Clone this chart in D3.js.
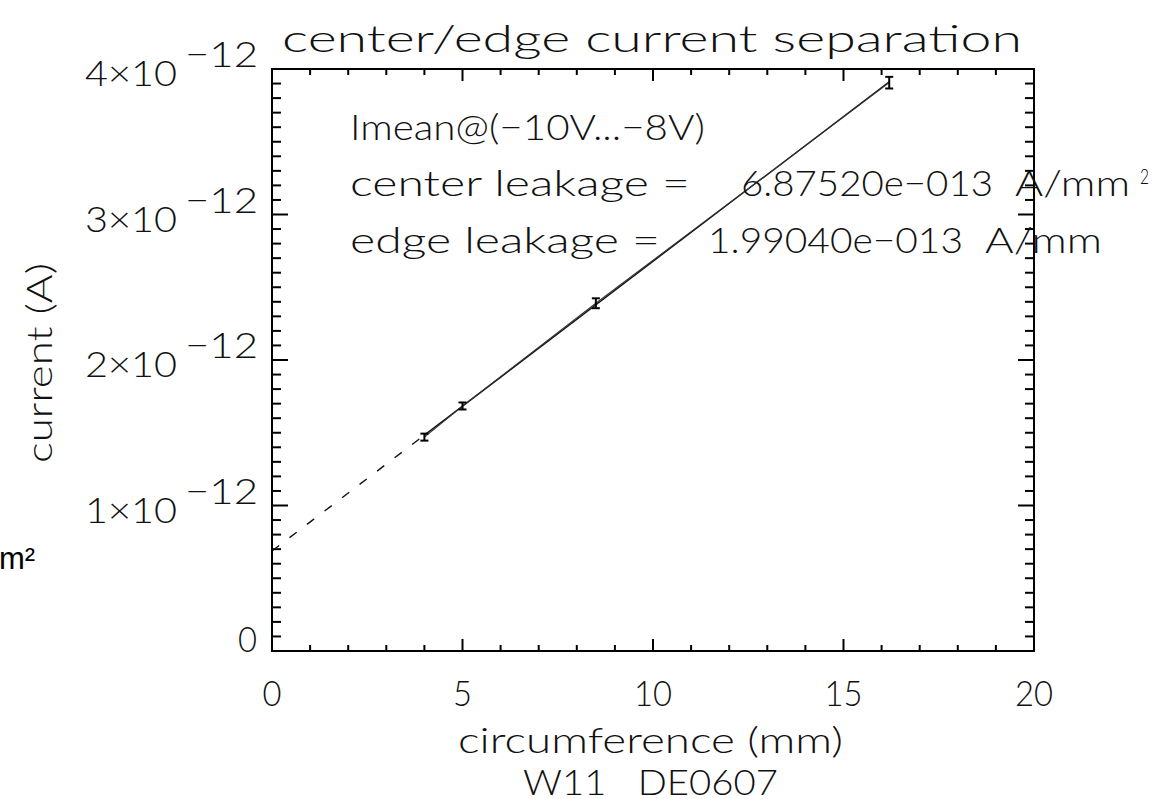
<!DOCTYPE html>
<html>
<head>
<meta charset="utf-8">
<script src="https://cdn.jsdelivr.net/npm/d3@7"></script>
<style>
  body { margin: 0; background: #fff; }
  svg { display: block; }
  text { font-family: Lato, "DejaVu Sans", sans-serif; font-weight: 300; fill: #111; white-space: pre; }
</style>
</head>
<body>
<svg id="chart" width="1167" height="799"></svg>
<script>
// Measured pads: circumference (mm) vs mean current (A) in the -10V...-8V window
const circumference = [4.0, 5.0, 8.5, 16.2];
const current = [1.47e-12, 1.684e-12, 2.39e-12, 3.906e-12];
const currentErr = [0.024e-12, 0.024e-12, 0.034e-12, 0.04e-12];

// Fit results: I = centerLeakage * area + edgeLeakage * circumference (area 1 mm^2)
const centerLeakage = 6.87520e-13; // A/mm^2
const edgeLeakage = 1.99040e-13;   // A/mm
const padArea = 1.0;               // mm^2

// Axis ticks
const xMajor = [0, 5, 10, 15, 20];
const xMinor = d3.range(0, 21, 1);
const yMajor = [0, 1e-12, 2e-12, 3e-12, 4e-12];
const yMinor = d3.range(0, 41).map(i => i * 1e-13);
const yMantissa = ["0", "1", "2", "3", "4"];

(function draw() {
  const svg = d3.select("#chart");
  const pL = 272, pR = 1034, pT = 69, pB = 651;
  const x = d3.scaleLinear().domain([0, 20]).range([pL, pR]);
  const y = d3.scaleLinear().domain([0, 4e-12]).range([pB, pT]);

  // text placed to span a fixed horizontal extent
  function span(g, str, x0, x1, base, size) {
    return g.append("text")
      .attr("x", x0).attr("y", base)
      .attr("font-size", size)
      .attr("textLength", x1 - x0)
      .attr("lengthAdjust", "spacingAndGlyphs")
      .text(str);
  }

  // ---- frame & ticks ----
  const axes = svg.append("g").attr("stroke", "#000").attr("stroke-width", 2).attr("fill", "none");
  axes.append("rect").attr("x", pL).attr("y", pT).attr("width", pR - pL).attr("height", pB - pT);

  const xTickLen = v => (xMajor.includes(v) ? 12 : 6);
  axes.selectAll(".xtb").data(xMinor).join("line")
    .attr("x1", d => x(d)).attr("x2", d => x(d))
    .attr("y1", pB).attr("y2", d => pB - xTickLen(d));
  axes.selectAll(".xtt").data(xMinor).join("line")
    .attr("x1", d => x(d)).attr("x2", d => x(d))
    .attr("y1", pT).attr("y2", d => pT + xTickLen(d));

  const yLen = i => (i % 10 === 0 ? 16 : 9);
  axes.selectAll(".ytl").data(yMinor).join("line")
    .attr("y1", d => y(d)).attr("y2", d => y(d))
    .attr("x1", pL).attr("x2", (d, i) => pL + yLen(i));
  axes.selectAll(".ytr").data(yMinor).join("line")
    .attr("y1", d => y(d)).attr("y2", d => y(d))
    .attr("x1", pR).attr("x2", (d, i) => pR - yLen(i));

  // ---- tick labels ----
  const lab = svg.append("g");
  xMajor.forEach(v => {
    const s = String(v);
    const w = s.length * 19;
    span(lab, s, x(v) - w / 2, x(v) + w / 2, 706, 36);
  });
  yMajor.forEach((v, i) => {
    const ty = y(v);
    if (v === 0) {
      span(lab, "0", 238, 257, ty + 1, 36);
    } else {
      span(lab, yMantissa[i] + "\u00d710", 85, 177, ty + 17, 36);
      span(lab, "\u221212", 185, 258, ty - 2, 36);
    }
  });

  // ---- titles ----
  span(lab, "center/edge current separation", 282, 1022, 52, 38);
  span(lab, "circumference (mm)", 458, 843, 753, 36);
  span(lab, "W11   DE0607", 523, 778, 795, 36);
  lab.append("text")
    .attr("transform", "translate(52,463) rotate(-90)")
    .attr("font-size", 36)
    .attr("textLength", 200)
    .attr("lengthAdjust", "spacingAndGlyphs")
    .text("current (A)");

  // ---- fit line: dashed extrapolation to x=0, solid over the data ----
  const fit = v => centerLeakage * padArea + edgeLeakage * v;
  const xLo = d3.min(circumference), xHi = d3.max(circumference);
  const line = d3.line().x(d => x(d)).y(d => y(fit(d)));
  svg.append("path").attr("d", line([0, xLo]))
    .attr("fill", "none").attr("stroke", "#111").attr("stroke-width", 1.4)
    .attr("stroke-dasharray", "9,13");
  svg.append("path").attr("d", line([xLo, xHi]))
    .attr("fill", "none").attr("stroke", "#111").attr("stroke-width", 1.4);

  // data polyline
  const pts = circumference.map((c, i) => [c, current[i]]);
  svg.append("path")
    .attr("d", d3.line().x(d => x(d[0])).y(d => y(d[1]))(pts))
    .attr("fill", "none").attr("stroke", "#333").attr("stroke-width", 1.1);

  // error bars
  const eb = svg.append("g").attr("stroke", "#000").attr("stroke-width", 2);
  pts.forEach((p, i) => {
    const cx = x(p[0]);
    const y0 = y(p[1] - currentErr[i]), y1 = y(p[1] + currentErr[i]);
    eb.append("line").attr("x1", cx).attr("x2", cx).attr("y1", y0).attr("y2", y1);
    eb.append("line").attr("x1", cx - 4).attr("x2", cx + 4).attr("y1", y0).attr("y2", y0);
    eb.append("line").attr("x1", cx - 4).attr("x2", cx + 4).attr("y1", y1).attr("y2", y1);
  });

  // ---- fit annotation (IDL-style exponent: e-013) ----
  const fmt = v => d3.format(".5e")(v).replace(/e-(\d+)/, (m, d) => "e\u2212" + d.padStart(3, "0"));
  const ann = svg.append("g");
  span(ann, "Imean@(\u221210V...\u22128V)", 350, 705, 140, 36);
  span(ann, "center leakage =", 350, 690, 196, 36);
  span(ann, fmt(centerLeakage), 741, 993, 196, 36);
  span(ann, "A/mm", 1015, 1130, 196, 36);
  span(ann, "2", 1140, 1149, 184, 22);
  span(ann, "edge leakage =", 350, 660, 253, 36);
  span(ann, fmt(edgeLeakage), 708, 963, 253, 36);
  span(ann, "A/mm", 985, 1102, 253, 36);

  // stray unit label at the left margin
  svg.append("text")
    .attr("x", -1).attr("y", 569)
    .style("font-family", "'Liberation Sans', Arial, sans-serif")
    .style("font-weight", 400)
    .style("fill", "#000")
    .attr("font-size", 31)
    .text("m\u00b2");
})();
</script>
</body>
</html>
